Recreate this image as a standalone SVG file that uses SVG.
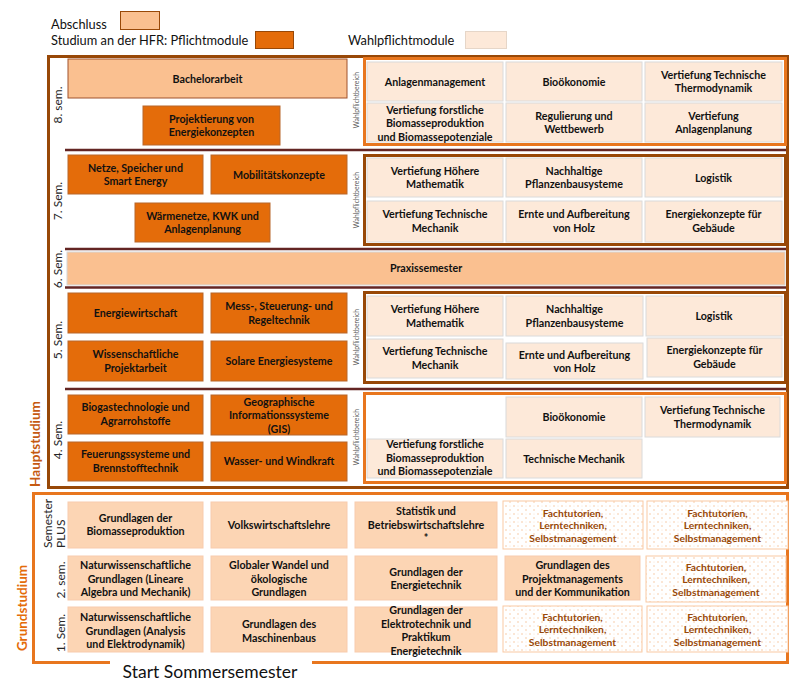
<svg xmlns="http://www.w3.org/2000/svg" width="800" height="684" viewBox="0 0 800 684">
<defs>
<pattern id="dots" width="8" height="8" patternUnits="userSpaceOnUse">
<rect width="8" height="8" fill="#ffffff"/>
<circle cx="2" cy="2" r="0.8" fill="#F6C7A0"/>
<circle cx="6" cy="6" r="0.8" fill="#F6C7A0"/>
<circle cx="6" cy="2" r="0.5" fill="#FADBC2"/>
</pattern>
</defs>
<style>
.pf{fill:#E46C0A;stroke:#B8662A;stroke-width:1}
.ab{fill:#FAC090;stroke:#A0522D;stroke-width:1}
.px{fill:#FAC090;stroke:#D6D6D6;stroke-width:1}
.wp{fill:#FDE9D9;stroke:#DADADA;stroke-width:1}
.gs{fill:#FCD5B4;stroke:#F8CBAD;stroke-width:1}
.ft{fill:url(#dots);stroke:#F9C9A3;stroke-width:1}
.fo{fill:none;stroke:#E8761E;stroke-width:3}
.fb{fill:none;stroke:#984807;stroke-width:3}
.sep{stroke:#632523;stroke-width:2.5}
.t{font-family:Lato,"Liberation Sans",sans-serif;font-weight:bold;font-size:10.7px;fill:#111;text-anchor:middle}
.tf{font-family:Lato,"Liberation Sans",sans-serif;font-weight:bold;font-size:10.3px;fill:#984807;text-anchor:middle}
.lg{font-family:Lato,"Liberation Sans",sans-serif;font-size:12.8px;fill:#111}
.sl{font-family:Lato,"Liberation Sans",sans-serif;font-size:12px;fill:#262626;text-anchor:middle}
.wl{font-family:Lato,"Liberation Sans",sans-serif;font-size:6.8px;fill:#595959;text-anchor:middle}
.big{font-family:Lato,"Liberation Sans",sans-serif;font-weight:bold;font-size:13.5px;text-anchor:middle}
</style>
<rect width="800" height="684" fill="#ffffff"/>

<g id="legend">
<text class="lg" x="51" y="28.5">Abschluss</text>
<rect x="120.5" y="11.5" width="39" height="18" fill="#FAC090" stroke="#984807"/>
<text class="lg" x="51" y="44.5">Studium an der HFR: Pflichtmodule</text>
<rect x="255.5" y="31.5" width="38" height="17" fill="#E46C0A" stroke="#984807"/>
<text class="lg" x="348" y="44.5">Wahlpflichtmodule</text>
<rect x="465.5" y="31.5" width="41" height="17" fill="#FDE9D9" stroke="#E6D6C8"/>
</g>

<g id="frames">
<rect id="hauptstudium-frame" class="fb" x="48.5" y="56.5" width="739" height="431"/>
<path id="grundstudium-frame" class="fo" d="M110,662.5 H33.5 V493.5 H787.5 V662.5 H312"/>
<text class="big" fill="#C55A11" transform="translate(40,444) rotate(-90)">Hauptstudium</text>
<text class="big" fill="#E46C0A" transform="translate(27,608) rotate(-90)">Grundstudium</text>
<text x="210" y="678" font-family="Lato,'Liberation Sans',sans-serif" font-size="17.5px" fill="#111" text-anchor="middle">Start Sommersemester</text>
</g>

<g id="connectors">
<line class="sep" x1="65" y1="150" x2="786" y2="150"/>
<line class="sep" x1="65" y1="249" x2="786" y2="249"/>
<line class="sep" x1="65" y1="287.5" x2="786" y2="287.5"/>
<line class="sep" x1="65" y1="389" x2="786" y2="389"/>
</g>

<g id="semester-labels">
<text class="sl" transform="translate(62,105) rotate(-90)">8. sem.</text>
<text class="sl" transform="translate(62,201) rotate(-90)">7. Sem.</text>
<text class="sl" transform="translate(62,269) rotate(-90)">6. Sem.</text>
<text class="sl" transform="translate(62,340) rotate(-90)">5. Sem.</text>
<text class="sl" transform="translate(62,440) rotate(-90)">4. Sem.</text>
<text class="sl" style="text-anchor:start" transform="translate(52,548) rotate(-90)">Semester</text>
<text class="sl" style="text-anchor:start" transform="translate(65,548) rotate(-90)">PLUS</text>
<text class="sl" transform="translate(65,580) rotate(-90)">2. sem.</text>
<text class="sl" transform="translate(65,633) rotate(-90)">1. Sem.</text>
<text class="wl" transform="translate(359,100) rotate(-90)">Wahlpflichtbereich</text>
<text class="wl" transform="translate(359,200) rotate(-90)">Wahlpflichtbereich</text>
<text class="wl" transform="translate(359,337) rotate(-90)">Wahlpflichtbereich</text>
<text class="wl" transform="translate(359,437) rotate(-90)">Wahlpflichtbereich</text>
</g>

<!-- Semester 8 -->
<g id="bachelorarbeit"><rect class="ab" x="68" y="59" width="279" height="39"/><text class="t" x="207.5" y="82.5">Bachelorarbeit</text></g>
<g id="projektierung"><rect class="pf" x="143" y="106" width="137" height="39"/><text class="t" x="211.5" y="122.5">Projektierung von<tspan x="211.5" dy="13.5">Energiekonzepten</tspan></text></g>
<g id="wp8">
<rect class="fo" x="364.5" y="58.5" width="421" height="86" fill="#fff"/>
<g id="wp8-anlagenmanagement"><rect class="wp" x="367" y="62" width="136" height="39"/><text class="t" x="435" y="85.5">Anlagenmanagement</text></g>
<g id="wp8-biooekonomie"><rect class="wp" x="506" y="62" width="136" height="39"/><text class="t" x="574" y="85.5">Bioökonomie</text></g>
<g id="wp8-thermodynamik"><rect class="wp" x="645" y="62" width="137" height="39"/><text class="t" x="713.5" y="78.5">Vertiefung Technische<tspan x="713.5" dy="13.5">Thermodynamik</tspan></text></g>
<g id="wp8-forstlich"><rect class="wp" x="367" y="103" width="136" height="39"/><text class="t" x="435" y="113.5">Vertiefung forstliche<tspan x="435" dy="13.5">Biomasseproduktion</tspan><tspan x="435" dy="13.5">und Biomassepotenziale</tspan></text></g>
<g id="wp8-regulierung"><rect class="wp" x="506" y="103" width="136" height="39"/><text class="t" x="574" y="119.5">Regulierung und<tspan x="574" dy="13.5">Wettbewerb</tspan></text></g>
<g id="wp8-anlagenplanung"><rect class="wp" x="645" y="103" width="137" height="39"/><text class="t" x="713.5" y="119.5">Vertiefung<tspan x="713.5" dy="13.5">Anlagenplanung</tspan></text></g>
</g>

<!-- Semester 7 -->
<g id="netze"><rect class="pf" x="68" y="155" width="135" height="39"/><text class="t" x="135.5" y="171.5">Netze, Speicher und<tspan x="135.5" dy="13.5">Smart Energy</tspan></text></g>
<g id="mobilitaet"><rect class="pf" x="211" y="155" width="136" height="39"/><text class="t" x="279" y="178.5">Mobilitätskonzepte</text></g>
<g id="waermenetze"><rect class="pf" x="135" y="203" width="135" height="39"/><text class="t" x="202.5" y="219.5">Wärmenetze, KWK und<tspan x="202.5" dy="13.5">Anlagenplanung</tspan></text></g>
<g id="wp7">
<rect class="fb" x="364.5" y="155.5" width="421" height="89" fill="#fff"/>
<g id="wp7-mathe"><rect class="wp" x="367" y="158" width="136" height="39"/><text class="t" x="435" y="174.5">Vertiefung Höhere<tspan x="435" dy="13.5">Mathematik</tspan></text></g>
<g id="wp7-pflanzenbau"><rect class="wp" x="506" y="158" width="136" height="39"/><text class="t" x="574" y="174.5">Nachhaltige<tspan x="574" dy="13.5">Pflanzenbausysteme</tspan></text></g>
<g id="wp7-logistik"><rect class="wp" x="645" y="158" width="137" height="39"/><text class="t" x="713.5" y="181.5">Logistik</text></g>
<g id="wp7-mechanik"><rect class="wp" x="367" y="201" width="136" height="41"/><text class="t" x="435" y="218">Vertiefung Technische<tspan x="435" dy="13.5">Mechanik</tspan></text></g>
<g id="wp7-holz"><rect class="wp" x="506" y="201" width="136" height="41"/><text class="t" x="574" y="218">Ernte und Aufbereitung<tspan x="574" dy="13.5">von Holz</tspan></text></g>
<g id="wp7-gebaeude"><rect class="wp" x="645" y="201" width="137" height="41"/><text class="t" x="713.5" y="218">Energiekonzepte für<tspan x="713.5" dy="13.5">Gebäude</tspan></text></g>
</g>

<!-- Semester 6 -->
<g id="praxissemester"><rect class="px" x="67" y="252" width="718" height="33"/><text class="t" x="426" y="272">Praxissemester</text></g>

<!-- Semester 5 -->
<g id="energiewirtschaft"><rect class="pf" x="68" y="293" width="135" height="40"/><text class="t" x="135.5" y="317">Energiewirtschaft</text></g>
<g id="msr"><rect class="pf" x="211" y="293" width="136" height="40"/><text class="t" x="279" y="310">Mess-, Steuerung- und<tspan x="279" dy="13.5">Regeltechnik</tspan></text></g>
<g id="projektarbeit"><rect class="pf" x="68" y="341" width="135" height="40"/><text class="t" x="135.5" y="358">Wissenschaftliche<tspan x="135.5" dy="13.5">Projektarbeit</tspan></text></g>
<g id="solar"><rect class="pf" x="211" y="341" width="136" height="40"/><text class="t" x="279" y="365">Solare Energiesysteme</text></g>
<g id="wp5">
<rect class="fb" x="364.5" y="292.5" width="421" height="90" fill="#fff"/>
<g id="wp5-mathe"><rect class="wp" x="367" y="296" width="136" height="40"/><text class="t" x="435" y="313">Vertiefung Höhere<tspan x="435" dy="13.5">Mathematik</tspan></text></g>
<g id="wp5-pflanzenbau"><rect class="wp" x="506" y="296" width="137" height="40"/><text class="t" x="574.5" y="313">Nachhaltige<tspan x="574.5" dy="13.5">Pflanzenbausysteme</tspan></text></g>
<g id="wp5-logistik"><rect class="wp" x="646" y="296" width="136" height="40"/><text class="t" x="714" y="320">Logistik</text></g>
<g id="wp5-mechanik"><rect class="wp" x="367" y="339" width="136" height="39"/><text class="t" x="435" y="355">Vertiefung Technische<tspan x="435" dy="13.5">Mechanik</tspan></text></g>
<g id="wp5-holz"><rect class="wp" x="506" y="343" width="137" height="36"/><text class="t" x="574.5" y="358.5">Ernte und Aufbereitung<tspan x="574.5" dy="13.5">von Holz</tspan></text></g>
<g id="wp5-gebaeude"><rect class="wp" x="647" y="338" width="135" height="39"/><text class="t" x="714.5" y="354">Energiekonzepte für<tspan x="714.5" dy="13.5">Gebäude</tspan></text></g>
</g>

<!-- Semester 4 -->
<g id="biogas"><rect class="pf" x="68" y="395" width="135" height="39"/><text class="t" x="135.5" y="411">Biogastechnologie und<tspan x="135.5" dy="13.5">Agrarrohstoffe</tspan></text></g>
<g id="gis"><rect class="pf" x="211" y="395" width="136" height="40"/><text class="t" x="279" y="405.5">Geographische<tspan x="279" dy="13.5">Informationssysteme</tspan><tspan x="279" dy="13.5">(GIS)</tspan></text></g>
<g id="feuerung"><rect class="pf" x="68" y="442" width="135" height="39"/><text class="t" x="135.5" y="458">Feuerungssysteme und<tspan x="135.5" dy="13.5">Brennstofftechnik</tspan></text></g>
<g id="wasserwind"><rect class="pf" x="211" y="442" width="136" height="39"/><text class="t" x="279" y="465">Wasser- und Windkraft</text></g>
<g id="wp4">
<rect class="fo" x="364.5" y="393.5" width="421" height="89" fill="#fff"/>
<g id="wp4-biooekonomie"><rect class="wp" x="506" y="397" width="136" height="40"/><text class="t" x="574" y="421">Bioökonomie</text></g>
<g id="wp4-thermodynamik"><rect class="wp" x="645" y="397" width="135" height="40"/><text class="t" x="712.5" y="414">Vertiefung Technische<tspan x="712.5" dy="13.5">Thermodynamik</tspan></text></g>
<g id="wp4-forstlich"><rect class="wp" x="367" y="439" width="136" height="39"/><text class="t" x="435" y="448">Vertiefung forstliche<tspan x="435" dy="13.5">Biomasseproduktion</tspan><tspan x="435" dy="13.5">und Biomassepotenziale</tspan></text></g>
<g id="wp4-mechanik"><rect class="wp" x="506" y="439" width="136" height="39"/><text class="t" x="574" y="462.5">Technische Mechanik</text></g>
</g>

<!-- Semester PLUS -->
<g id="biomasseproduktion"><rect class="gs" x="68" y="502" width="135" height="46"/><text class="t" x="135.5" y="521.5">Grundlagen der<tspan x="135.5" dy="13.5">Biomasseproduktion</tspan></text></g>
<g id="vwl"><rect class="gs" x="211" y="502" width="136" height="46"/><text class="t" x="279" y="529">Volkswirtschaftslehre</text></g>
<g id="statistik-bwl"><rect class="gs" x="355" y="502" width="142" height="46"/><text class="t" x="426" y="515">Statistik und<tspan x="426" dy="13.5">Betriebswirtschaftslehre</tspan><tspan x="426" dy="13.5">*</tspan></text></g>
<g id="ft-plus-1"><rect class="ft" x="503" y="501" width="140" height="48"/><text class="tf" x="573" y="516.5">Fachtutorien,<tspan x="573" dy="12.5">Lerntechniken,</tspan><tspan x="573" dy="12.5">Selbstmanagement</tspan></text></g>
<g id="ft-plus-2"><rect class="ft" x="647" y="501" width="141" height="48"/><text class="tf" x="717.5" y="516.5">Fachtutorien,<tspan x="717.5" dy="12.5">Lerntechniken,</tspan><tspan x="717.5" dy="12.5">Selbstmanagement</tspan></text></g>

<!-- Semester 2 -->
<g id="naturwiss-2"><rect class="gs" x="68" y="556" width="135" height="44"/><text class="t" x="135.5" y="569">Naturwissenschaftliche<tspan x="135.5" dy="13.5">Grundlagen (Lineare</tspan><tspan x="135.5" dy="13.5">Algebra und Mechanik)</tspan></text></g>
<g id="globaler-wandel"><rect class="gs" x="211" y="556" width="136" height="44"/><text class="t" x="279" y="569">Globaler Wandel und<tspan x="279" dy="13.5">ökologische</tspan><tspan x="279" dy="13.5">Grundlagen</tspan></text></g>
<g id="energietechnik"><rect class="gs" x="355" y="556" width="142" height="44"/><text class="t" x="426" y="575.5">Grundlagen der<tspan x="426" dy="13.5">Energietechnik</tspan></text></g>
<g id="projektmanagement"><rect class="gs" x="505" y="556" width="135" height="44"/><text class="t" x="572.5" y="569">Grundlagen des<tspan x="572.5" dy="13.5">Projektmanagements</tspan><tspan x="572.5" dy="13.5">und der Kommunikation</tspan></text></g>
<g id="ft-2"><rect class="ft" x="646" y="556" width="140" height="46"/><text class="tf" x="716" y="570.5">Fachtutorien,<tspan x="716" dy="12.5">Lerntechniken,</tspan><tspan x="716" dy="12.5">Selbstmanagement</tspan></text></g>

<!-- Semester 1 -->
<g id="naturwiss-1"><rect class="gs" x="68" y="607" width="135" height="45"/><text class="t" x="135.5" y="621">Naturwissenschaftliche<tspan x="135.5" dy="13.5">Grundlagen (Analysis</tspan><tspan x="135.5" dy="13.5">und Elektrodynamik)</tspan></text></g>
<g id="maschinenbau"><rect class="gs" x="211" y="607" width="136" height="45"/><text class="t" x="279" y="628">Grundlagen des<tspan x="279" dy="13.5">Maschinenbaus</tspan></text></g>
<g id="elektrotechnik"><rect class="gs" x="355" y="607" width="142" height="45"/><text class="t" x="426" y="614">Grundlagen der<tspan x="426" dy="13.5">Elektrotechnik und</tspan><tspan x="426" dy="13.5">Praktikum</tspan><tspan x="426" dy="13.5">Energietechnik</tspan></text></g>
<g id="ft-1-1"><rect class="ft" x="503" y="606" width="139" height="46"/><text class="tf" x="572.5" y="620.5">Fachtutorien,<tspan x="572.5" dy="12.5">Lerntechniken,</tspan><tspan x="572.5" dy="12.5">Selbstmanagement</tspan></text></g>
<g id="ft-1-2"><rect class="ft" x="647" y="606" width="141" height="46"/><text class="tf" x="717.5" y="620.5">Fachtutorien,<tspan x="717.5" dy="12.5">Lerntechniken,</tspan><tspan x="717.5" dy="12.5">Selbstmanagement</tspan></text></g>
</svg>
